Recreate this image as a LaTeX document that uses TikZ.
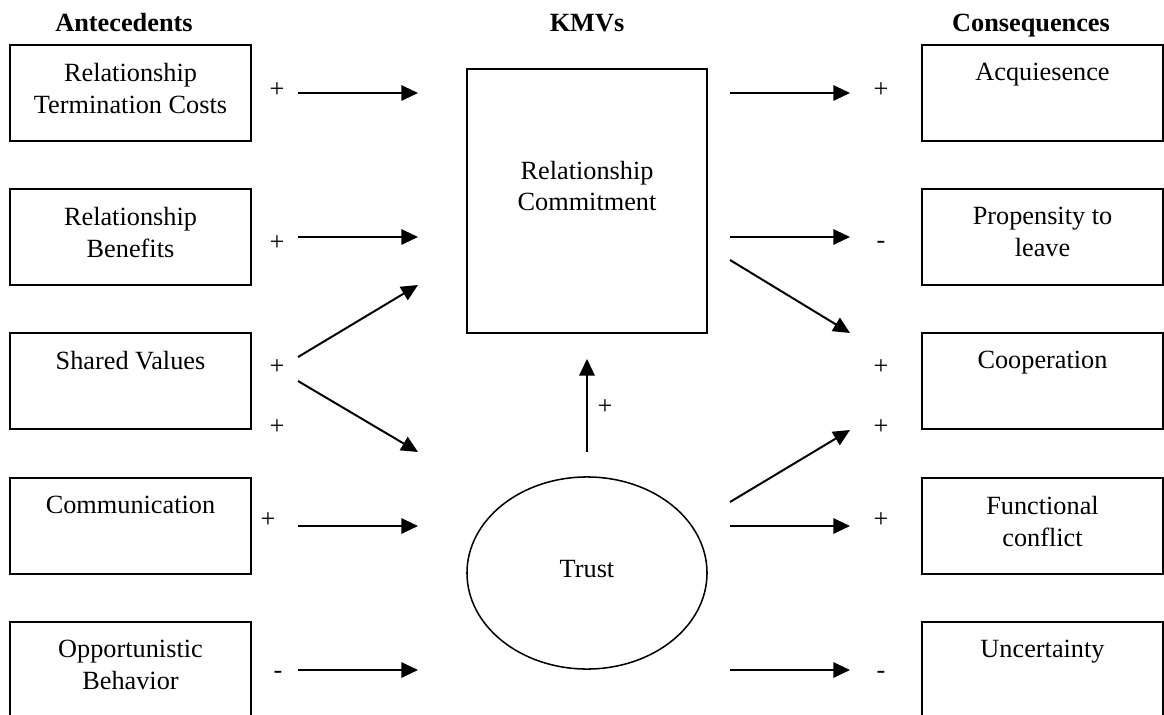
\documentclass[tikz,border=0pt]{standalone}
\usepackage{fontspec}
\setmainfont{Liberation Serif}
\usepackage{tikz}
\usetikzlibrary{shapes.geometric}
\usetikzlibrary{arrows.meta}
\tikzset{
every node/.style={font=\fontsize{12}{14.4}\selectfont}, % Times-like text everywhere
factor/.style={ % Sets the properties for the outer boxes
draw,
line width=0.9pt,
minimum width=110pt,
minimum height=43.8pt},
boxtext/.style={ % Text hangs from the top of a box
anchor=north,
inner sep=0pt,
yshift=-8.7pt,
align=center},
heading/.style={anchor=base, font=\bfseries\fontsize{12}{14.4}\selectfont},
sign/.style={inner sep=1pt}, % + and - beside the arrows
link/.style={ % Arrows with filled heads
draw,
line width=0.9pt,
-{Triangle[length=7.6pt,width=7pt]}}}

\begin{document}
\begin{tikzpicture}[x=0.4566pt, y=-0.4566pt]
\useasboundingbox (0,0) rectangle (1164,715);
% column titles
\node[heading] (ante) at (124,32) {Antecedents};
\node[heading] (kmv) at (587,32) {KMVs};
\node[heading] (cons) at (1031,32) {Consequences};
% antecedents
\node[factor, label={[boxtext]north:{Relationship\\Termination Costs}}] (rtc) at (130.5,93) {};
\node[factor, label={[boxtext]north:{Relationship\\Benefits}}] (rben) at (130.5,237) {};
\node[factor, label={[boxtext]north:{Shared Values}}] (shv) at (130.5,381) {};
\node[factor, label={[boxtext]north:{Communication}}] (comm) at (130.5,526) {};
\node[factor, label={[boxtext]north:{Opportunistic\\Behavior}}] (opp) at (130.5,670) {};
% key mediating variables
\node[draw, line width=0.9pt, minimum width=109.6pt, minimum height=120.5pt,
  label={[boxtext, yshift=-33.6pt]north:{Relationship\\Commitment}}] (rc) at (587,201) {};
\node[ellipse, draw, line width=0.7pt, minimum width=109.6pt, minimum height=87.7pt,
  text depth=4pt] (trust) at (587,573) {Trust};
% consequences
\node[factor, label={[boxtext]north:{Acquiesence}}] (acq) at (1042.5,93) {};
\node[factor, label={[boxtext]north:{Propensity to\\leave}}] (ptl) at (1042.5,237) {};
\node[factor, label={[boxtext]north:{Cooperation}}] (coop) at (1042.5,381) {};
\node[factor, label={[boxtext]north:{Functional\\conflict}}] (fconf) at (1042.5,526) {};
\node[factor, label={[boxtext]north:{Uncertainty}}] (unc) at (1042.5,670) {};
% where the arrows start and stop
\coordinate (c1) at (298,0);
\coordinate (c2) at (418,0);
\coordinate (c3) at (730,0);
\coordinate (c4) at (850,0);
\coordinate (svup) at (298,357);
\coordinate (rcin) at (418,285);
\coordinate (svdown) at (298,381);
\coordinate (trin) at (418,452);
\coordinate (rcout) at (730,260);
\coordinate (coopa) at (850,333);
\coordinate (trout) at (730,502);
\coordinate (coopb) at (850,430);
% arrows
\draw[link] (c1 |- rtc.east) -- (c2 |- rtc.east);
\draw[link] (c1 |- rben.east) -- (c2 |- rben.east);
\draw[link] (svup) -- (rcin);
\draw[link] (svdown) -- (trin);
\draw[link] (c1 |- comm.east) -- (c2 |- comm.east);
\draw[link] (c1 |- opp.east) -- (c2 |- opp.east);
\draw[link, shorten <=11pt, shorten >=11.4pt] (trust) -- (rc);
\draw[link] (c3 |- acq.west) -- (c4 |- acq.west);
\draw[link] (c3 |- ptl.west) -- (c4 |- ptl.west);
\draw[link] (rcout) -- (coopa);
\draw[link] (trout) -- (coopb);
\draw[link] (c3 |- fconf.west) -- (c4 |- fconf.west);
\draw[link] (c3 |- unc.west) -- (c4 |- unc.west);
% signs
\node[sign] (s1) at (277,90) {+};
\node[sign] (s2) at (277,243) {+};
\node[sign] (s3) at (277,367) {+};
\node[sign] (s4) at (277,427) {+};
\node[sign] (s5) at (268,520) {+};
\node[sign] (s6) at (278,675) {-};
\node[sign] (s7) at (605,407) {+};
\node[sign] (s8) at (881,90) {+};
\node[sign] (s9) at (881,245) {-};
\node[sign] (s10) at (881,367) {+};
\node[sign] (s11) at (881,427) {+};
\node[sign] (s12) at (881,520) {+};
\node[sign] (s13) at (881,675) {-};
\end{tikzpicture}
\end{document}
